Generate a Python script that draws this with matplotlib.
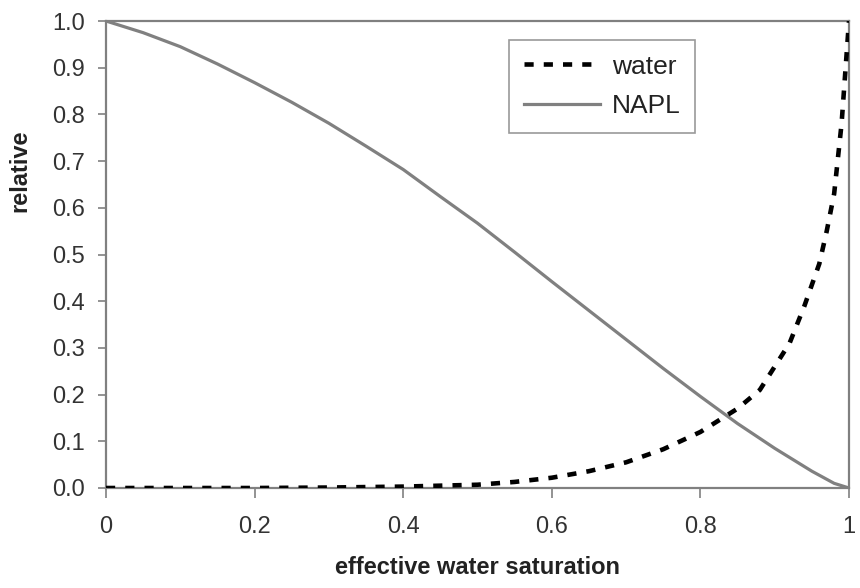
import numpy as np
import matplotlib.pyplot as plt

# effective water saturation and relative permeabilities
sat_napl = [0.0, 0.05, 0.1, 0.15, 0.2, 0.25, 0.3, 0.35, 0.4, 0.45, 0.5, 0.55, 0.6,
            0.65, 0.7, 0.75, 0.8, 0.85, 0.9, 0.95, 0.98, 1.0]
kr_napl = [1.0, 0.975, 0.945, 0.908, 0.868, 0.826, 0.781, 0.732, 0.682, 0.624, 0.567,
           0.505, 0.442, 0.380, 0.318, 0.256, 0.196, 0.138, 0.085, 0.036, 0.010, 0.0]

sat_water = [0.0, 0.1, 0.2, 0.3, 0.4, 0.5, 0.55, 0.6, 0.65, 0.7, 0.75, 0.8, 0.85,
             0.88, 0.9, 0.92, 0.94, 0.96, 0.97, 0.98, 0.99, 1.0]
kr_water = [0.0, 0.0, 0.0, 0.001, 0.003, 0.007, 0.013, 0.022, 0.036, 0.055, 0.083,
            0.12, 0.17, 0.21, 0.26, 0.31, 0.39, 0.48, 0.55, 0.63, 0.78, 1.0]

xticks = [0, 0.2, 0.4, 0.6, 0.8, 1]
xticklabels = ['0', '0.2', '0.4', '0.6', '0.8', '1']
yticks = np.round(np.arange(0, 1.01, 0.1), 1)

plt.rcParams['font.family'] = ['Liberation Sans', 'DejaVu Sans']

W, H = 860, 588
fig = plt.figure(figsize=(W/100, H/100), dpi=100)
ax = fig.add_axes([106/W, 1 - 488/H, (849-106)/W, (488-21)/H])

ax.plot(sat_water, kr_water, color='black', lw=3.3, linestyle=(0, (2, 2.2)),
        label='water', zorder=3)
ax.plot(sat_napl, kr_napl, color='#808080', lw=2.3, label='NAPL', zorder=2)

ax.set_xlim(0, 1)
ax.set_ylim(0, 1)
ax.set_xticks(xticks)
ax.set_xticklabels(xticklabels)
ax.set_yticks(yticks)
ax.set_yticklabels(['%.1f' % v for v in yticks])

for s in ax.spines.values():
    s.set_color('#808080')
    s.set_linewidth(1.6)
ax.tick_params(axis='y', direction='out', length=6, width=1.2, color='#808080',
               labelsize=17, labelcolor='#333333', pad=9)
ax.tick_params(axis='x', direction='out', length=7, width=1.2, color='#808080',
               labelsize=17, labelcolor='#333333', pad=13)

ax.set_xlabel('effective water saturation', fontsize=17, fontweight='bold',
              color='#222222', labelpad=13)
ax.set_ylabel('relative', fontsize=17, fontweight='bold', color='#222222')
ax.yaxis.set_label_coords(-0.1, 0.68)

leg = ax.legend(loc='upper left', bbox_to_anchor=(509/W, 1 - 40/H),
                bbox_transform=fig.transFigure, borderaxespad=0, fontsize=19,
                frameon=True, fancybox=False, handlelength=2.9, handletextpad=0.45,
                borderpad=0.55, labelspacing=0.6)
leg.get_frame().set_edgecolor('#808080')
leg.get_frame().set_linewidth(1.2)
for t in leg.get_texts():
    t.set_color('#222222')

fig.savefig('out.png', dpi=100)
